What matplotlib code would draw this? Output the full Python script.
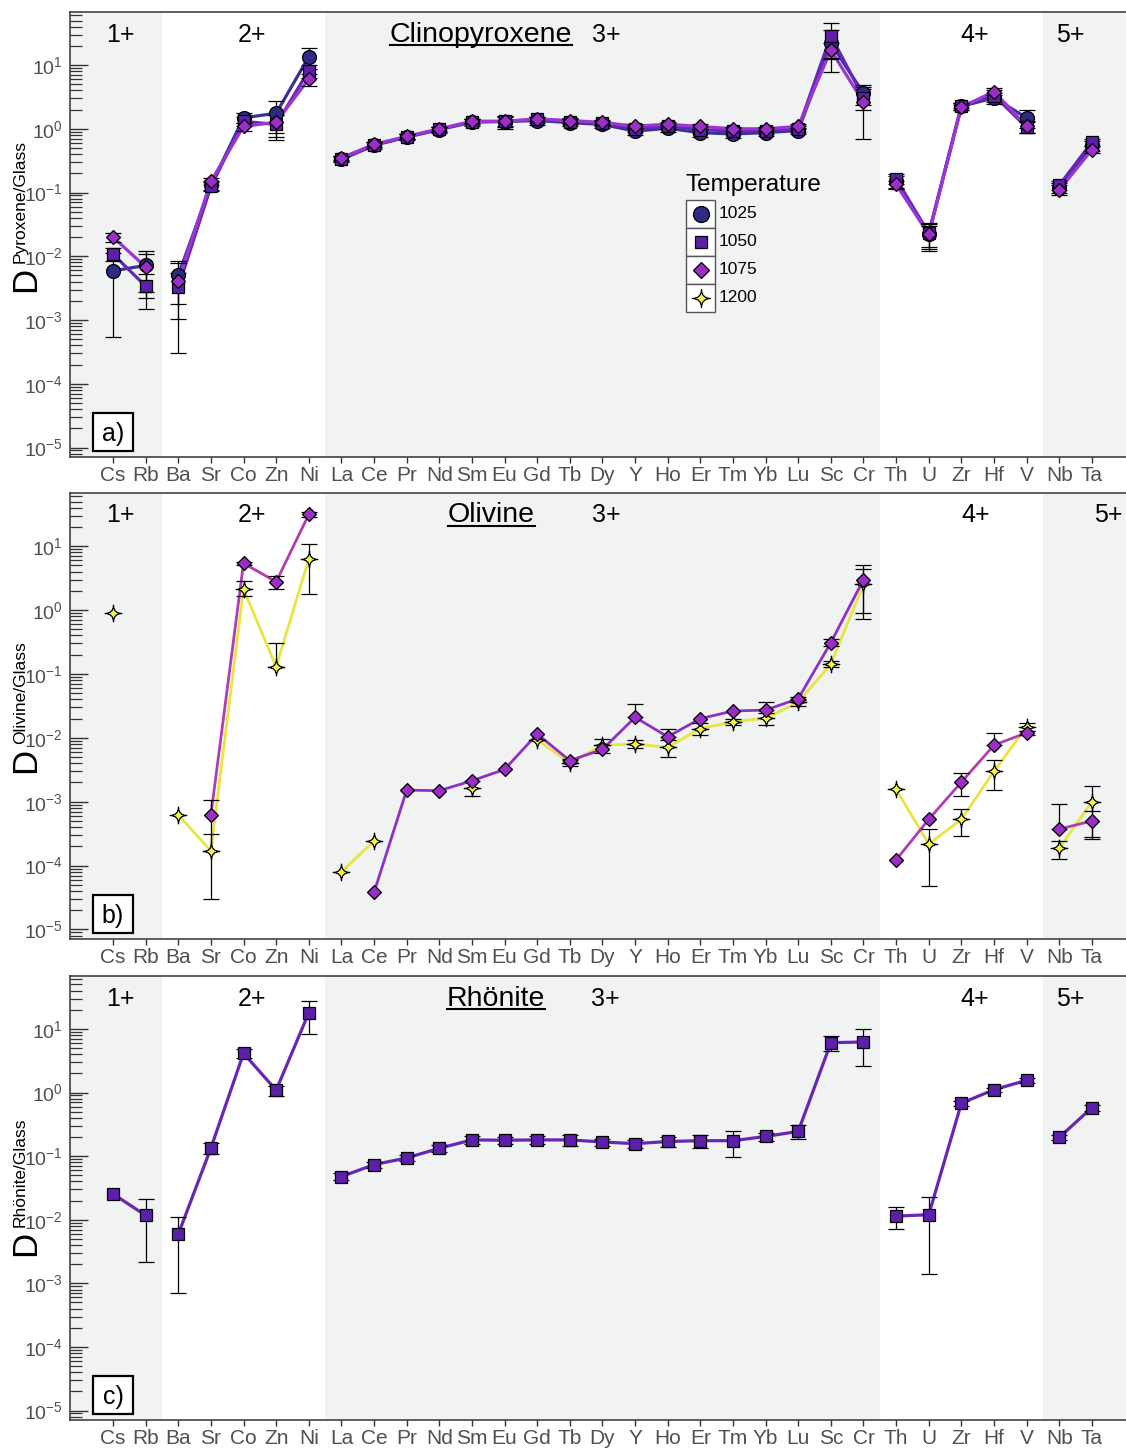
import numpy as np
import matplotlib
matplotlib.use('Agg')
import matplotlib.pyplot as plt
import matplotlib.transforms as mtransforms
from matplotlib.path import Path
from matplotlib.patches import Rectangle
from matplotlib.lines import Line2D
from matplotlib.ticker import LogLocator, FuncFormatter, NullFormatter, FixedLocator

plt.rcParams['font.family'] = ['Liberation Sans', 'DejaVu Sans']
plt.rcParams['mathtext.fontset'] = 'custom'
plt.rcParams['mathtext.rm'] = 'Liberation Sans'
plt.rcParams['mathtext.it'] = 'Liberation Sans:italic'
plt.rcParams['mathtext.bf'] = 'Liberation Sans:bold'
plt.rcParams['mathtext.default'] = 'regular'

nan = np.nan

# ---------------- data ----------------
elements = ['Cs', 'Rb', 'Ba', 'Sr', 'Co', 'Zn', 'Ni', 'La', 'Ce', 'Pr', 'Nd', 'Sm', 'Eu', 'Gd',
            'Tb', 'Dy', 'Y', 'Ho', 'Er', 'Tm', 'Yb', 'Lu', 'Sc', 'Cr', 'Th', 'U', 'Zr', 'Hf',
            'V', 'Nb', 'Ta']
group_labels = ['1+', '2+', '3+', '4+', '5+']
group_bounds = [(0, 2), (2, 7), (7, 24), (24, 29), (29, 31)]
temperatures = ['1025', '1050', '1075', '1200']

# Clinopyroxene / glass
cpx_1025 = [5.9e-3, 7.2e-3, 5.06e-3, 0.13, 1.49, 1.75, 13.5, 0.33, 0.55, 0.74, 0.97, 1.27, 1.30,
            1.35, 1.25, 1.17, 0.92, 1.02, 0.87, 0.83, 0.87, 0.94, 21.9, 3.6, 0.15, 0.022, 2.25,
            3.06, 1.49, 0.12, 0.55]
cpx_1025_err = [5.35e-3, 5.0e-3, 3.3e-3, 0.02, 0.25, 1.0, 4.8, 0.03, 0.06, 0.08, 0.10, 0.15, 0.30,
                0.20, 0.15, 0.15, 0.12, 0.12, 0.12, 0.10, 0.10, 0.10, 14.0, 1.2, 0.03, 0.01, 0.30,
                0.60, 0.45, 0.02, 0.10]
cpx_1050 = [1.08e-2, 3.4e-3, 3.25e-3, 0.125, 1.31, 1.17, 8.2, 0.34, 0.56, 0.75, 0.98, 1.30, 1.31,
            1.40, 1.30, 1.22, 1.00, 1.10, 0.97, 0.92, 0.93, 1.00, 28.9, 3.06, 0.165, 0.023, 2.32,
            3.32, 1.06, 0.13, 0.62]
cpx_1050_err = [2.5e-3, 1.9e-3, 2.2e-3, 0.02, 0.20, 0.50, 1.9, 0.03, 0.05, 0.07, 0.10, 0.12, 0.25,
                0.15, 0.12, 0.12, 0.10, 0.10, 0.10, 0.10, 0.10, 0.10, 16.0, 1.1, 0.03, 0.01, 0.20,
                0.70, 0.20, 0.02, 0.08]
cpx_1075 = [2.0e-2, 6.8e-3, 4.1e-3, 0.15, 1.09, 1.27, 6.05, 0.35, 0.57, 0.76, 1.00, 1.31, 1.31,
            1.43, 1.35, 1.26, 1.10, 1.18, 1.09, 1.00, 1.00, 1.09, 17.2, 2.6, 0.134, 0.022, 2.18,
            3.84, 1.10, 0.11, 0.47]
cpx_1075_err = [3.5e-3, 4.0e-3, 3.8e-3, 0.02, 0.15, 0.40, 1.3, 0.03, 0.05, 0.06, 0.08, 0.10, 0.20,
                0.12, 0.12, 0.10, 0.08, 0.10, 0.08, 0.08, 0.08, 0.08, 4.8, 1.9, 0.02, 0.008, 0.20,
                0.50, 0.25, 0.02, 0.06]

# Olivine / glass (lower and upper error)
ol_1075 = [nan, nan, nan, 6.2e-4, 5.4, 2.77, 31.4, nan, 3.8e-5, 1.52e-3, 1.49e-3, 2.13e-3, 3.2e-3,
           1.15e-2, 4.4e-3, 6.6e-3, 2.1e-2, 1.04e-2, 2.0e-2, 2.63e-2, 2.72e-2, 4.1e-2, 0.31, 3.0,
           1.23e-4, 5.3e-4, 2.03e-3, 7.7e-3, 1.2e-2, 3.73e-4, 5.0e-4]
ol_1075_err_hi = [nan, nan, nan, 4.5e-4, 0.35, 0.65, 3.0, nan, nan, nan, nan, nan, nan, nan, 3e-4,
                  nan, 1.3e-2, 3.4e-3, nan, nan, 9.5e-3, 2e-3, 0.04, 2.1, nan, nan, 8e-4, 4.3e-3,
                  1e-3, 5.4e-4, 2.2e-4]
ol_1075_err_lo = [nan, nan, nan, 4.5e-4, 0.35, 0.65, 3.0, nan, nan, nan, nan, nan, nan, nan, 3e-4,
                  nan, 0.0, 0.0, nan, nan, 0.0, 2e-3, 0.04, 2.1, nan, nan, 8e-4, 0.0,
                  1e-3, 0.0, 2.2e-4]
ol_1200 = [0.91, nan, 6.2e-4, 1.7e-4, 2.13, 0.13, 6.3, 8.0e-5, 2.43e-4, nan, nan, 1.66e-3, nan,
           9.3e-3, 4.07e-3, 7.7e-3, 8.0e-3, 7.1e-3, 1.4e-2, 1.79e-2, 2.02e-2, 3.6e-2, 0.143, 2.53,
           1.56e-3, 2.18e-4, 5.3e-4, 3.0e-3, 1.49e-2, 1.86e-4, 1.0e-3]
ol_1200_err_hi = [nan, nan, nan, 1.4e-4, 0.75, 0.17, 4.5, nan, nan, nan, nan, 4.3e-4, nan, nan,
                  4e-4, 2e-3, 1.3e-3, 2e-3, 3e-3, 2e-3, 4.5e-3, 4e-3, 0.015, 1.8, nan, 1.6e-4,
                  2.4e-4, 1.45e-3, 2e-3, 6e-5, 7.4e-4]
ol_1200_err_lo = [nan, nan, nan, 1.4e-4, 0.47, 0.0, 4.5, nan, nan, nan, nan, 4.3e-4, nan, nan,
                  4e-4, 2e-3, 1.1e-3, 2e-3, 3e-3, 2e-3, 4.5e-3, 4e-3, 0.015, 1.8, nan, 1.7e-4,
                  2.4e-4, 1.45e-3, 2e-3, 6e-5, 7.4e-4]

# Rhönite / glass
rh_1050 = [0.0255, 0.0117, 5.9e-3, 0.134, 4.14, 1.09, 17.9, 0.0477, 0.0736, 0.0936, 0.133, 0.18,
           0.178, 0.18, 0.18, 0.167, 0.157, 0.17, 0.175, 0.175, 0.204, 0.245, 6.08, 6.24, 0.0114,
           0.012, 0.68, 1.11, 1.56, 0.197, 0.58]
rh_1050_err = [nan, 9.5e-3, 5.2e-3, 0.025, 0.7, 0.2, 9.5, 0.006, 0.008, 0.01, 0.015, 0.025, 0.025,
               0.025, 0.035, 0.02, 0.025, 0.03, 0.04, 0.077, 0.03, 0.06, 1.6, 3.6, 4.3e-3, 0.0106,
               0.06, 0.08, 0.15, 0.02, 0.06]

# ---------------- styles ----------------
W, H = 1126, 1448
DPI = 100

star_verts = [(0, 1), (0.02, 0.02), (1, 0), (0.02, -0.02), (0, -1), (-0.02, -0.02),
              (-1, 0), (-0.02, 0.02), (0, 1), (0, 1)]
star_codes = [Path.MOVETO, Path.CURVE3, Path.CURVE3, Path.CURVE3, Path.CURVE3, Path.CURVE3,
              Path.CURVE3, Path.CURVE3, Path.CURVE3, Path.CLOSEPOLY]
star = Path(star_verts, star_codes)

style = {
    '1025': dict(marker='o', ms=10, mfc='#2f2a84', line='#3a3392'),
    '1050': dict(marker='s', ms=8.6, mfc='#5c1fa9', line='#6627b6'),
    '1075': dict(marker='D', ms=6.8, mfc='#9a2ec6', line='#9c36d2'),
    '1200': dict(marker=star, ms=12, mfc='#f2f24a', line='#e6e63e'),
}

bg_grey = '#f1f3f2'
tick_grey = '#505050'

# axes rectangles in pixels (left, top, right, bottom)
ax_px = [(70, 12, 1126, 457), (70, 493, 1126, 939), (70, 976, 1126, 1420)]
x_first, x_step = 113.0, 32.63
xlim = ((70 - x_first) / x_step, (1126 - x_first) / x_step)

fig = plt.figure(figsize=(W / DPI, H / DPI), dpi=DPI)


def px_to_data_x(px):
    return (px - x_first) / x_step


def plot_series(ax, vals, err_lo, err_hi, key, lw, zbase, line_colors=None):
    st = style[key]
    x = np.arange(len(elements))
    v = np.asarray(vals, float)
    yerr = np.vstack([np.asarray(err_lo, float), np.asarray(err_hi, float)])
    for gi, (s, en) in enumerate(group_bounds):
        c = line_colors[gi] if line_colors else st['line']
        ax.plot(x[s:en], v[s:en], '-', color=c, lw=lw, zorder=2 + zbase * 0.01,
                solid_capstyle='round', solid_joinstyle='round')
    ax.errorbar(x, v, yerr=yerr, fmt='none', ecolor='black', elinewidth=0.9, capsize=5.5,
                capthick=0.9, zorder=3 + zbase * 0.01)
    ax.plot(x, v, linestyle='none', marker=st['marker'], ms=st['ms'], mfc=st['mfc'],
            mec='black', mew=0.9, zorder=4 + zbase * 0.01)


def log_fmt(v, pos):
    e = int(round(np.log10(v)))
    return r'$10^{%d}$' % e


panels = [
    dict(name='Clinopyroxene', sup='Pyroxene/Glass', label='a)',
         series=[(cpx_1025, cpx_1025_err, cpx_1025_err, '1025'),
                 (cpx_1050, cpx_1050_err, cpx_1050_err, '1050'),
                 (cpx_1075, cpx_1075_err, cpx_1075_err, '1075')],
         title_px=481, grp_px=[120, 252, 606, 975, 1070], lw=2.3),
    dict(name='Olivine', sup='Olivine/Glass', label='b)',
         series=[(ol_1200, ol_1200_err_lo, ol_1200_err_hi, '1200'),
                 (ol_1075, ol_1075_err_lo, ol_1075_err_hi, '1075')],
         title_px=491, grp_px=[120, 252, 606, 976, 1108], lw=2.0),
    dict(name='Rhönite', sup='Rhönite/Glass', label='c)',
         series=[(rh_1050, rh_1050_err, rh_1050_err, '1050')],
         title_px=496, grp_px=[120, 252, 605, 975, 1070], lw=2.3),
]

titles = []
for pi, (p, (l, tp, r, b)) in enumerate(zip(panels, ax_px)):
    ax = fig.add_axes([l / W, 1 - b / H, (r - l) / W, (b - tp) / H])
    axh = b - tp
    ax.set_xlim(*xlim)
    ax.set_ylim(7.1e-6, 68)
    ax.set_yscale('log')

    # oxidation-state background bands
    ax.axvspan(xlim[0], 1.5, color=bg_grey, zorder=0, lw=0)
    ax.axvspan(6.5, 23.5, color=bg_grey, zorder=0, lw=0)
    ax.axvspan(28.5, xlim[1], color=bg_grey, zorder=0, lw=0)

    for si, (vals, elo, ehi, key) in enumerate(p['series']):
        lc = None
        if pi == 1 and key == '1075':
            lc = ['#b23cb2', '#b23cb2', '#8f2fca', '#b23cb2', '#b23cb2']
        plot_series(ax, vals, elo, ehi, key, p['lw'], si, lc)

    # axes styling
    for sp in ['top', 'left', 'bottom']:
        ax.spines[sp].set_color('#333333')
        ax.spines[sp].set_linewidth(1.1)
    ax.spines['right'].set_visible(False)
    ax.set_xticks(np.arange(len(elements)))
    ax.set_xticklabels(elements)
    ax.tick_params(axis='x', direction='out', length=4, width=1, color='#333333',
                   labelsize=15, labelcolor=tick_grey, pad=2.5)
    ax.yaxis.set_major_locator(FixedLocator([1e-5, 1e-4, 1e-3, 1e-2, 1e-1, 1, 10]))
    ax.yaxis.set_minor_locator(LogLocator(base=10, subs=np.arange(2, 10), numticks=20))
    ax.yaxis.set_major_formatter(FuncFormatter(log_fmt))
    ax.yaxis.set_minor_formatter(NullFormatter())
    ax.tick_params(axis='y', which='major', direction='in', length=13, width=1, color='#333333',
                   labelsize=14, labelcolor=tick_grey, pad=5)
    ax.tick_params(axis='y', which='minor', direction='in', length=8.5, width=0.9,
                   color='#333333')

    # group labels and title
    blend = mtransforms.blended_transform_factory(ax.transData, ax.transAxes)
    yb = 1 - 29.5 / axh
    for lbl, gx in zip(group_labels, p['grp_px']):
        ax.text(px_to_data_x(gx), yb, lbl, transform=blend, ha='center', va='baseline',
                fontsize=18, zorder=6)
    tt = ax.text(px_to_data_x(p['title_px']), yb, p['name'], transform=blend, ha='center',
                 va='baseline', fontsize=20.5, zorder=6)
    titles.append((ax, tt, yb, axh))

    # panel label box
    bx0, bx1 = (93 - l) / (r - l), (133 - l) / (r - l)
    by0, by1 = 6 / axh, 44 / axh
    ax.add_patch(Rectangle((bx0, by0), bx1 - bx0, by1 - by0, transform=ax.transAxes,
                           facecolor='white', edgecolor='black', lw=1.6, zorder=7))
    ax.text((bx0 + bx1) / 2, (by0 + by1) / 2 - 0.004, p['label'], transform=ax.transAxes,
            ha='center', va='center', fontsize=18, zorder=8)

    # y label: large D with superscript
    d_bottom = tp + 280
    fig.text(35 / W, 1 - d_bottom / H, 'D', rotation=90, rotation_mode='anchor', ha='left',
             va='baseline', fontsize=25)
    fig.text(25 / W, 1 - (d_bottom - 29) / H, p['sup'], rotation=90, rotation_mode='anchor',
             ha='left', va='baseline', fontsize=12.5)

# legend (temperature table) in panel a
lax = fig.add_axes([686 / W, 1 - 312 / H, 29 / W, 112 / H])
lax.set_xlim(0, 1)
lax.set_ylim(0, 4)
lax.axis('off')
for i, key in enumerate(temperatures):
    yc = 3.5 - i
    lax.add_patch(Rectangle((0, 3 - i), 1, 1, facecolor='white', edgecolor='#555555', lw=1.0,
                            clip_on=False))
    st = style[key]
    ms = {'1025': 11.5, '1050': 8.5, '1075': 8.5, '1200': 13}[key]
    lax.plot([0.5], [yc], linestyle='none', marker=st['marker'], ms=ms, mfc=st['mfc'],
             mec='black', mew=0.9, clip_on=False)
    lax.text(1.12, yc, key, ha='left', va='center', fontsize=12.5, clip_on=False)
lax.text(0.0, 4.55, 'Temperature', ha='left', va='center', fontsize=17.5, clip_on=False)

# underline titles
fig.canvas.draw()
renderer = fig.canvas.get_renderer()
for ax, tt, yb, axh in titles:
    bb = tt.get_window_extent(renderer)
    ybase_px = ax.transAxes.transform((0, yb))[1]
    y_line = ybase_px - 3.5
    p0 = fig.transFigure.inverted().transform((bb.x0, y_line))
    p1 = fig.transFigure.inverted().transform((bb.x1, y_line))
    fig.add_artist(Line2D([p0[0], p1[0]], [p0[1], p1[1]], transform=fig.transFigure,
                          color='black', lw=1.5))

fig.savefig('out.png', dpi=DPI)
